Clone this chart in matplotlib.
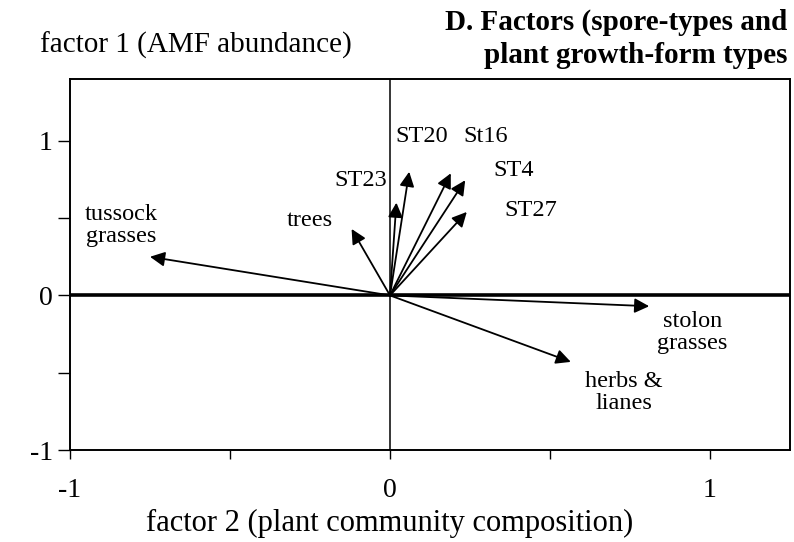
import matplotlib
matplotlib.use("Agg")
import matplotlib.pyplot as plt

plt.rcParams["font.family"] = ["Liberation Serif", "DejaVu Serif"]

# ── Data: factor loadings ──────────────────────────────────────────────────
names    = ["tussock\ngrasses", "trees", "ST23", "ST20", "St16", "ST4", "ST27",
            "stolon\ngrasses", "herbs &\nlianes"]
factor2  = [-0.75, -0.12, 0.02, 0.06, 0.19, 0.235, 0.24, 0.81, 0.565]
factor1  = [0.25, 0.43, 0.60, 0.80, 0.79, 0.745, 0.54, -0.07, -0.43]

# label anchor points (layout only)
label_pos = [(-0.84, 0.45), (-0.25, 0.485), (-0.09, 0.745), (0.10, 1.03),
             (0.30, 1.03), (0.385, 0.81), (0.44, 0.55), (0.945, -0.24),
             (0.73, -0.63)]

xticks = [-1, -0.5, 0, 0.5, 1]
xtick_labels = ["-1", "", "0", "", "1"]
yticks = [-1, -0.5, 0, 0.5, 1]
ytick_labels = ["-1", "", "0", "", "1"]

# ── Figure ─────────────────────────────────────────────────────────────────
fig = plt.figure(figsize=(7.94, 5.42), dpi=100)
ax  = fig.add_axes([70 / 794, 1 - 450 / 542, 720 / 794, 371 / 542])

ax.set_xlim(-1, 1.25)
ax.set_ylim(-1, 1.4)

ax.axhline(0, color="black", lw=2.6, zorder=1)
ax.axvline(0, color="black", lw=1.1, zorder=1)

for fx, fy in zip(factor2, factor1):
    ax.annotate("", xy=(fx, fy), xytext=(0, 0),
                arrowprops=dict(arrowstyle="-|>", color="black", lw=1.3,
                                mutation_scale=22, shrinkA=0, shrinkB=0))

for name, (lx, ly) in zip(names, label_pos):
    ax.text(lx, ly, name, ha="center", va="center", fontsize=17.5,
            linespacing=1.05)

ax.set_xticks(xticks)
ax.set_xticklabels(xtick_labels)
ax.set_yticks(yticks)
ax.set_yticklabels(ytick_labels)
ax.tick_params(axis="x", length=6.5, width=1, pad=14, labelsize=20)
ax.tick_params(axis="y", length=8.5, width=1, pad=4, labelsize=20)
for sp in ax.spines.values():
    sp.set_linewidth(1.4)

fig.text(40 / 794, 1 - 45 / 542, "factor 1 (AMF abundance)",
         ha="left", va="center", fontsize=21)
fig.text(787 / 794, 1 - 39 / 542,
         "D. Factors (spore-types and\nplant growth-form types",
         ha="right", va="center", fontsize=21, fontweight="bold",
         linespacing=1.3)
fig.text(390 / 794, 1 - 523 / 542, "factor 2 (plant community composition)",
         ha="center", va="center", fontsize=22)

plt.savefig("out.png", dpi=100)
